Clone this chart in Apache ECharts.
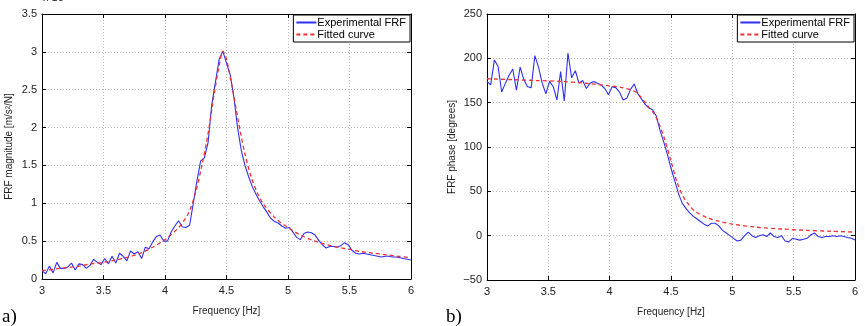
<!DOCTYPE html>
<html>
<head>
<meta charset="utf-8">
<script src="https://cdn.jsdelivr.net/npm/echarts@6/dist/echarts.min.js"></script>
<style>
    html, body { margin: 0; padding: 0; background: #fff; }
    #main { width: 865px; height: 326px; }
</style>
</head>
<body>
<div id="main"></div>
<script>
// measured frequency grid: 3.00 .. 6.00 Hz, step 0.03 Hz
var freqStart = 3.0, freqStep = 0.03

// FRF magnitude (x 10^-4), experimental
var magExp = [
    0.11, 0.07, 0.17, 0.08, 0.22, 0.14, 0.14, 0.16, 0.21, 0.12,
    0.20, 0.19, 0.14, 0.18, 0.26, 0.22, 0.19, 0.27, 0.20, 0.30,
    0.21, 0.34, 0.30, 0.24, 0.37, 0.33, 0.36, 0.27, 0.42, 0.40,
    0.49, 0.56, 0.58, 0.50, 0.50, 0.62, 0.70, 0.77, 0.69, 0.68,
    0.71, 1.00, 1.30, 1.56, 1.60, 1.80, 2.30, 2.60, 2.90, 3.01,
    2.85, 2.70, 2.40, 2.00, 1.70, 1.50, 1.35, 1.22, 1.12, 1.03,
    0.95, 0.88, 0.80, 0.76, 0.74, 0.70, 0.67, 0.68, 0.62, 0.55,
    0.52, 0.60, 0.62, 0.61, 0.58, 0.51, 0.45, 0.41, 0.43, 0.43,
    0.42, 0.44, 0.48, 0.45, 0.38, 0.34, 0.33, 0.34, 0.33, 0.32,
    0.31, 0.30, 0.29, 0.30, 0.30, 0.29, 0.29, 0.28, 0.27, 0.26,
    0.25
]

// FRF phase (degrees), experimental
var phaseExp = [
    174, 170, 198, 191, 162, 172, 181, 188, 164, 190,
    176, 168, 167, 203, 190, 172, 160, 174, 168, 153,
    185, 152, 206, 178, 186, 172, 175, 166, 172, 174,
    172, 170, 166, 159, 168, 167, 162, 153, 155, 165,
    171, 160, 154, 148, 144, 142, 135, 119, 106, 92,
    76, 62, 48, 37, 31, 26, 22, 19, 16, 13,
    11, 14, 14, 11, 6, 3, 0, -3, -6, -5,
    0, 4, 0, -2, 0, 1, -1, 3, -1, -2,
    0, -6, -7, -3, -4, -5, -4, -3, 1, 3,
    -1, -2, -1, -1, 0, -1, 0, -1, -2, -3,
    -5
]

// fitted curves, read at these frequencies
var fitMagFreq = [3.0, 3.1, 3.2, 3.3, 3.4, 3.5, 3.6, 3.7, 3.8, 3.9, 4.0, 4.1, 4.15, 4.2, 4.25, 4.3, 4.35, 4.4, 4.45, 4.47,
    4.5, 4.55, 4.6, 4.65, 4.7, 4.75, 4.8, 4.9, 5.0, 5.1, 5.2, 5.3, 5.4, 5.5, 5.6, 5.7, 5.8, 5.9, 6.0]
var fitMag = [0.11, 0.13, 0.15, 0.17, 0.20, 0.22, 0.25, 0.29, 0.34, 0.42, 0.52, 0.66, 0.76, 0.90, 1.15, 1.50, 1.92, 2.45, 2.90, 3.01,
    2.90, 2.50, 2.05, 1.65, 1.35, 1.14, 0.99, 0.80, 0.68, 0.58, 0.51, 0.46, 0.42, 0.39, 0.36, 0.34, 0.32, 0.30, 0.28]

var fitPhaseFreq = [3.0, 3.2, 3.4, 3.6, 3.8, 4.0, 4.1, 4.2, 4.25, 4.3, 4.35, 4.4, 4.45, 4.5, 4.55, 4.6, 4.65, 4.7,
    4.8, 4.9, 5.0, 5.2, 5.4, 5.6, 5.8, 6.0]
var fitPhase = [177, 176, 175, 174, 172, 169, 167, 163, 157, 148, 140, 127, 108, 84, 60, 44, 34, 27,
    20, 16, 13, 9.5, 7.5, 6, 5, 4]

var pairs = function (xs, ys) {
    return ys.map(function (v, i) { return [xs[i], v] })
}
var gridPairs = function (ys) {
    return ys.map(function (v, i) { return [+(freqStart + i * freqStep).toFixed(2), v] })
}

var font = '"Liberation Sans", Arial, sans-serif'
var blue = '#3030f0', red = '#f03030'

var xAxisBase = function (gi, pos) {
    var bottom = pos === 'bottom'
    return {
        gridIndex: gi, type: 'value', position: pos,
        min: 3, max: 6, interval: 0.5,
        axisLine: { show: true, onZero: false, lineStyle: { color: '#000', width: 1 } },
        axisTick: { show: true, inside: true, length: 4, lineStyle: { color: '#000' } },
        axisLabel: { show: bottom, color: '#222', fontFamily: font, fontSize: 11, margin: 6 },
        splitLine: { show: bottom, lineStyle: { color: '#bdbdbd', type: [1, 2] } },
        name: bottom ? 'Frequency [Hz]' : '',
        nameLocation: 'middle', nameGap: 27,
        nameTextStyle: { color: '#222', fontFamily: font, fontSize: 10 }
    }
}
var yAxisBase = function (gi, pos, min, max, step, name, gap) {
    var left = pos === 'left'
    return {
        gridIndex: gi, type: 'value', position: pos,
        min: min, max: max, interval: step,
        axisLine: { show: true, onZero: false, lineStyle: { color: '#000', width: 1 } },
        axisTick: { show: true, inside: true, length: 4, lineStyle: { color: '#000' } },
        axisLabel: {
            show: left, color: '#222', fontFamily: font, fontSize: 11, margin: 5,
            formatter: function (v) { return String(v).replace('-', '\u2212') }
        },
        splitLine: { show: left, lineStyle: { color: '#bdbdbd', type: [1, 2] } },
        name: left ? name : '',
        nameLocation: 'middle', nameGap: gap,
        nameTextStyle: { color: '#222', fontFamily: font, fontSize: 10 }
    }
}

var legendBase = function (right) {
    return {
        data: ['Experimental FRF', 'Fitted curve'],
        orient: 'vertical', right: right, top: 15,
        backgroundColor: '#fff', borderColor: '#000', borderWidth: 1,
        padding: [2, 4, 2, 2], itemGap: 1, itemWidth: 20, itemHeight: 12,
        itemStyle: { opacity: 0 },
        textStyle: { color: '#000', fontFamily: font, fontSize: 11, padding: [0, 0, 0, -4] },
        selectedMode: false
    }
}

var myChart = echarts.init(document.getElementById('main'))
var options = {
    animation: false,
    backgroundColor: '#fff',
    grid: [
        { left: 42, right: 454, top: 14, bottom: 47 },
        { left: 487, right: 10, top: 14, bottom: 46 }
    ],
    xAxis: [xAxisBase(0, 'bottom'), xAxisBase(0, 'top'), xAxisBase(1, 'bottom'), xAxisBase(1, 'top')],
    yAxis: [
        yAxisBase(0, 'left', 0, 3.5, 0.5, 'FRF magnitude [m/s\u00b2/N]', 28),
        yAxisBase(0, 'right', 0, 3.5, 0.5, '', 0),
        yAxisBase(1, 'left', -50, 250, 50, 'FRF phase [degrees]', 30),
        yAxisBase(1, 'right', -50, 250, 50, '', 0)
    ],
    legend: [legendBase(455), legendBase(11)],
    graphic: [
        { type: 'text', left: 43, top: -8, style: { text: 'x 10', fill: '#222', font: '11px ' + font } },
        { type: 'text', left: 2, top: 308, style: { text: 'a)', fill: '#000', font: '19px "Liberation Serif", "Times New Roman", serif' } },
        { type: 'text', left: 446, top: 308, style: { text: 'b)', fill: '#000', font: '19px "Liberation Serif", "Times New Roman", serif' } }
    ],
    series: [
        {
            name: 'Experimental FRF', type: 'line', xAxisIndex: 0, yAxisIndex: 0,
            data: gridPairs(magExp), symbol: 'none', z: 3,
            lineStyle: { color: blue, width: 1.1 }, itemStyle: { color: blue }
        },
        {
            name: 'Fitted curve', type: 'line', xAxisIndex: 0, yAxisIndex: 0, smooth: 0.3,
            data: pairs(fitMagFreq, fitMag), symbol: 'none', z: 4,
            lineStyle: { color: red, width: 1.3, type: [4, 3] }, itemStyle: { color: red }
        },
        {
            name: 'Experimental FRF', type: 'line', xAxisIndex: 2, yAxisIndex: 2,
            data: gridPairs(phaseExp), symbol: 'none', z: 3,
            lineStyle: { color: blue, width: 1.1 }, itemStyle: { color: blue }
        },
        {
            name: 'Fitted curve', type: 'line', xAxisIndex: 2, yAxisIndex: 2, smooth: 0.3,
            data: pairs(fitPhaseFreq, fitPhase), symbol: 'none', z: 4,
            lineStyle: { color: red, width: 1.3, type: [4, 3] }, itemStyle: { color: red }
        }
    ]
}
myChart.setOption(options)
</script>
</body>
</html>
